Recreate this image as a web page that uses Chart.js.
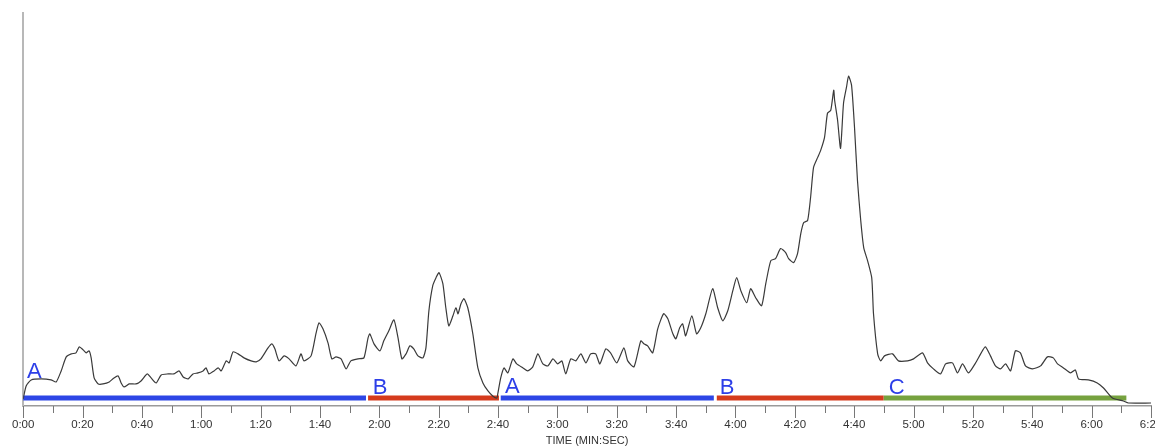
<!DOCTYPE html>
<html>
<head>
<meta charset="utf-8">
<script src="https://cdn.jsdelivr.net/npm/chart.js@4"></script>
<style>
  html, body { margin: 0; padding: 0; background: #fff; overflow: hidden; }
  #wrap { width: 1175px; height: 446px; }
</style>
</head>
<body>
<div id="wrap"><canvas id="timeChart" width="1175" height="446"></canvas></div>
<script>
// tiempo en segundos y nivel
const timeSec = [
  0, 1.0, 2.7, 6.1, 9.4, 11.1, 12.8, 14.5, 16.2, 17.8, 18.9, 20.2, 21.2, 22.2, 22.9, 23.9,
  25.3, 26.9, 29.0, 30.6, 32.0, 33.0, 34.0, 35.7, 38.0, 39.7, 41.8, 43.1, 44.8, 46.5, 48.8,
  50.8, 52.5, 53.9, 55.6, 57.2, 58.9, 60.6, 61.6, 62.6, 64.3, 65.7, 66.7, 68.4, 69.4, 70.7,
  72.4, 74.4, 76.8, 78.5, 80.1, 82.5, 83.8, 84.8, 86.2, 87.9, 89.6, 91.9, 93.6, 94.6, 97.0,
  98.7, 99.7, 101.0, 102.7, 104.0, 105.4, 107.1, 108.8, 110.4, 112.8, 114.8, 116.2, 116.8,
  118.2, 120.2, 121.5, 123.2, 124.9, 126.3, 127.6, 129.0, 130.3, 131.6, 133.0, 134.7, 135.7,
  136.7, 138.0, 139.1, 140.1, 141.4, 142.4, 143.4, 144.8, 145.8, 146.5, 147.5, 148.5, 149.8,
  151.5, 153.2, 154.9, 156.6, 158.2, 159.6, 159.9, 160.9, 162.0, 163.3, 165.0, 166.3, 168.4,
  170.0, 171.7, 173.4, 175.1, 176.8, 178.5, 180.1, 181.5, 182.8, 184.5, 186.2, 187.9, 189.6,
  191.2, 192.9, 194.3, 196.3, 197.9, 200.0, 202.4, 203.7, 205.8, 208.1, 209.1, 210.4, 212.1,
  213.8, 215.8, 217.2, 218.9, 219.9, 221.2, 222.2, 223.2, 225.3, 226.9, 228.3, 230.0, 232.3,
  234.0, 235.7, 237.4, 239.1, 240.4, 241.8, 243.8, 245.1, 246.8, 248.8, 250.2, 251.9, 253.5,
  255.2, 256.9, 257.9, 259.6, 260.9, 262.0, 263.0, 264.3, 265.3, 266.3, 267.7, 268.7, 270.0,
  271.0, 272.1, 273.1, 273.4, 274.4, 275.4, 276.4, 277.4, 278.1, 279.1, 280.1, 281.1, 282.2,
  283.2, 284.5, 285.9, 286.5, 287.9, 288.9, 290.2, 292.9, 294.9, 298.0, 300.0, 303.0, 304.7,
  306.7, 309.1, 310.8, 313.1, 314.8, 316.5, 318.5, 320.9, 322.6, 324.2, 325.9, 327.6, 329.3,
  331.0, 332.7, 334.3, 336.0, 337.7, 340.1, 342.8, 345.1, 347.1, 348.5, 350.5, 352.9, 354.5,
  355.6, 358.9, 361.9, 364.0, 367.0, 370.7, 372.4, 380
];
const level = [
  2, 15, 21, 22, 21, 19, 30, 44, 47, 48, 54, 51, 48, 50, 43, 23,
  17, 17, 19, 23, 25, 18, 14, 17, 17, 20, 27, 23, 18, 26, 27,
  27, 30, 24, 22, 27, 28, 30, 33, 27, 30, 33, 30, 40, 38, 49,
  47, 43, 40, 39, 42, 53, 57, 52, 40, 45, 42, 35, 47, 40, 45,
  68, 78, 72, 58, 42, 44, 42, 32, 40, 42, 43, 63, 67,
  57, 50, 60, 70, 81, 63, 42, 47, 55, 52, 45, 43, 53,
  90, 115, 123, 128, 117, 93, 75, 85, 93, 87, 97, 102, 93,
  67, 33, 18, 10, 5, 3, 7, 23, 33, 28, 42, 37, 33,
  30, 34, 47, 37, 35, 42, 37, 40, 27, 42, 40, 47, 38,
  47, 47, 37, 52, 48, 38, 53, 40, 34, 60, 57, 55, 48,
  72, 87, 82, 67, 62, 73, 77, 65, 85, 67, 73, 87, 112,
  93, 80, 90, 110, 123, 110, 98, 112, 103, 95, 117, 140, 142,
  152, 148, 142, 138, 147, 167, 178, 180, 203, 233, 243, 250, 263,
  287, 290, 310, 300, 280, 252, 297, 313, 324, 315, 273, 220, 180,
  153, 140, 123, 87, 47, 40, 45, 47, 40, 40, 42, 48, 38,
  32, 27, 37, 38, 28, 37, 28, 38, 47, 54, 45, 35, 32,
  37, 30, 50, 48, 35, 32, 35, 44, 43, 37, 33, 28, 31,
  22, 21, 18, 13, 3, 0, -2, -2
];

// tramos de fase (inicio y fin en segundos)
const phaseNames = ['A', 'B', 'A', 'B', 'C'];
const phaseStart = [-0.7, 116.2, 160.9, 233.7, 289.9];
const phaseEnd = [115.5, 160.3, 232.7, 289.9, 371.7];
const phaseColors = ['#2d46e6', '#d53b1d', '#2d46e6', '#d53b1d', '#76a23f'];
const barLevel = 3;

// posición de las letras
const letterTime = [1.3, 117.8, 162.3, 234.7, 291.6];
const letterLevel = [23, 7, 8, 7, 7];

const tickLabels = ['0:00', '0:20', '0:40', '1:00', '1:20', '1:40', '2:00', '2:20', '2:40', '3:00',
  '3:20', '3:40', '4:00', '4:20', '4:40', '5:00', '5:20', '5:40', '6:00', '6:20'];

const linePoints = timeSec.map((t, i) => ({ x: t, y: level[i] }));

const phaseSets = phaseNames.map((n, i) => ({
  data: [{ x: phaseStart[i], y: barLevel }, { x: phaseEnd[i], y: barLevel }],
  borderColor: phaseColors[i],
  borderWidth: 5,
  borderCapStyle: 'butt',
  pointRadius: 0,
  fill: false,
  order: 2
}));

// marcas menores y letras
const extras = {
  id: 'extras',
  afterDraw(chart) {
    const c = chart.ctx;
    const xs = chart.scales.x, ys = chart.scales.y;
    const base = chart.chartArea.bottom;
    c.save();
    c.strokeStyle = '#777';
    c.lineWidth = 1;
    for (let t = 0; t <= 380; t += 10) {
      const px = Math.round(xs.getPixelForValue(t)) + 0.5;
      const len = t % 20 === 0 ? 12 : 7;
      c.beginPath();
      c.moveTo(px, base);
      c.lineTo(px, base + len);
      c.stroke();
    }
    c.fillStyle = '#2d3fe8';
    c.font = '22px "Liberation Sans", Arial, sans-serif';
    c.textBaseline = 'alphabetic';
    phaseNames.forEach((n, i) => {
      c.fillText(n, xs.getPixelForValue(letterTime[i]), ys.getPixelForValue(letterLevel[i]));
    });
    c.restore();
  }
};

const ctx = document.getElementById('timeChart').getContext('2d');
const chart = new Chart(ctx, {
  type: 'line',
  data: {
    datasets: [{
      data: linePoints,
      borderColor: '#3a3a3a',
      borderWidth: 1.2,
      pointRadius: 0,
      fill: false,
      tension: 0.2,
      order: 1
    }].concat(phaseSets)
  },
  options: {
    responsive: false,
    animation: false,
    layout: { padding: { left: 22, right: 24, top: 13, bottom: 0 } },
    plugins: { legend: { display: false }, tooltip: { enabled: false } },
    scales: {
      x: {
        type: 'linear',
        min: 0,
        max: 380,
        grid: { display: false, drawTicks: false },
        border: { display: true, color: '#9a9a9a', width: 1.5 },
        ticks: {
          stepSize: 20,
          autoSkip: false,
          maxRotation: 0,
          padding: 12,
          color: '#333',
          font: { family: '"Liberation Sans", Arial, sans-serif', size: 11.5 },
          callback: (v, i) => tickLabels[i]
        },
        title: {
          display: true,
          text: 'TIME (MIN:SEC)',
          color: '#333',
          padding: { top: -9, bottom: -2 },
          font: { family: '"Liberation Sans", Arial, sans-serif', size: 11 }
        }
      },
      y: {
        min: -5,
        max: 387,
        grid: { display: false, drawTicks: false },
        border: { display: true, color: '#b8b8b8', width: 2 },
        ticks: { display: false }
      }
    }
  },
  plugins: [extras]
});
</script>
</body>
</html>
